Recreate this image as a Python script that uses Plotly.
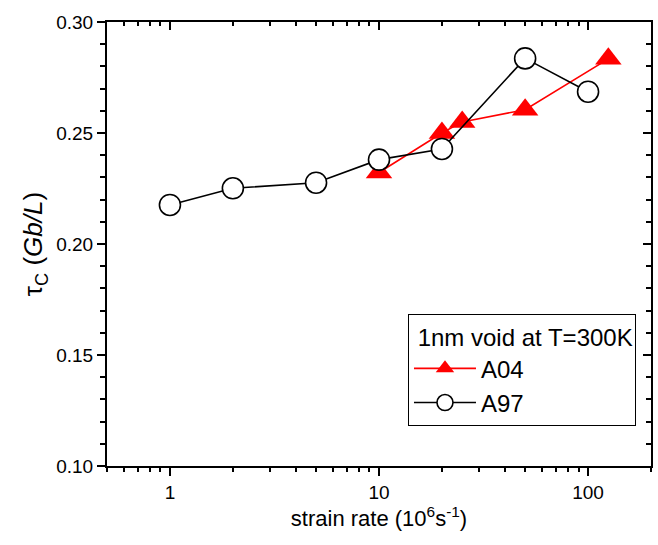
import plotly.graph_objects as go
import numpy as np

# Data
a97_rate = [1, 2, 5, 10, 20, 50, 100]
a97_tau = [0.2176, 0.2251, 0.2276, 0.2380, 0.2428, 0.2836, 0.2686]

a04_rate = [10, 20, 25, 50, 125]
a04_tau = [0.2322, 0.2500, 0.2550, 0.2605, 0.2834]

legend_title = "\u00a01nm void at T=300K"
x_tickvals = [1, 10, 100]
x_ticktext = ["1", "10", "100"]
y_tickvals = [0.10, 0.15, 0.20, 0.25, 0.30]
y_ticktext = ["0.10", "0.15", "0.20", "0.25", "0.30"]

FONT = "Liberation Sans, Arial, sans-serif"

fig = go.Figure()
fig.add_trace(go.Scatter(
    x=a04_rate, y=a04_tau, name="A04", mode="lines+markers",
    line=dict(color="#ff0000", width=1.6),
    marker=dict(symbol="triangle-up", size=23, color="#ff0000",
                line=dict(width=0)),
))
fig.add_trace(go.Scatter(
    x=a97_rate, y=a97_tau, name="A97", mode="lines+markers",
    line=dict(color="black", width=1.6),
    marker=dict(symbol="circle", size=21, color="white",
                line=dict(color="black", width=1.6)),
))
# invisible carrier trace so the mirrored top/right frame axes are drawn
fig.add_trace(go.Scatter(
    x=a97_rate, y=a97_tau, xaxis="x2", yaxis="y2", mode="markers",
    marker=dict(opacity=0), showlegend=False, hoverinfo="skip",
))

xr = [np.log10(0.5), np.log10(200)]
yr = [0.10, 0.30]

fig.update_layout(
    width=658, height=545,
    margin=dict(l=107, r=7, t=22, b=79),
    paper_bgcolor="white", plot_bgcolor="white",
    font=dict(family=FONT, size=19, color="black"),
    showlegend=True,
    legend=dict(
        title=dict(text=legend_title, font=dict(size=24)),
        font=dict(size=24),
        x=0.9724, xanchor="right", y=0.09, yanchor="bottom",
        bordercolor="black", borderwidth=1, bgcolor="white",
        itemwidth=62,
        tracegroupgap=0,
    ),
    xaxis=dict(
        type="log", range=xr,
        tickvals=x_tickvals, ticktext=x_ticktext,
        ticks="outside", ticklen=8, tickwidth=1.5, tickcolor="black",
        minor=dict(dtick="D1", ticks="outside", ticklen=4, tickwidth=1.5, tickcolor="black"),
        showline=True, linecolor="black", linewidth=2,
        showgrid=False, zeroline=False,
        title=dict(text="strain rate (10<sup>6</sup>s<sup>-1</sup>)", font=dict(size=22), standoff=5),
        tickfont=dict(size=19),
    ),
    yaxis=dict(
        range=yr,
        tickvals=y_tickvals, ticktext=y_ticktext,
        ticks="outside", ticklen=8, tickwidth=1.5, tickcolor="black",
        minor=dict(dtick=0.01, ticks="outside", ticklen=5, tickwidth=1.5, tickcolor="black"),
        showline=True, linecolor="black", linewidth=2,
        showgrid=False, zeroline=False,
        title=dict(text="τ<sub>C</sub> (<i>Gb/L</i>)", font=dict(size=26), standoff=6),
        tickfont=dict(size=19),
    ),
    xaxis2=dict(
        type="log", range=xr, overlaying="x", side="top", anchor="y2",
        tickvals=x_tickvals, showticklabels=False,
        ticks="inside", ticklen=8, tickwidth=1.5, tickcolor="black",
        minor=dict(dtick="D1", ticks="inside", ticklen=4, tickwidth=1.5, tickcolor="black"),
        showline=True, linecolor="black", linewidth=2,
        showgrid=False, zeroline=False,
    ),
    yaxis2=dict(
        range=yr, overlaying="y", side="right", anchor="x2",
        tickvals=y_tickvals, showticklabels=False,
        ticks="inside", ticklen=8, tickwidth=1.5, tickcolor="black",
        minor=dict(dtick=0.01, ticks="inside", ticklen=5, tickwidth=1.5, tickcolor="black"),
        showline=True, linecolor="black", linewidth=2,
        showgrid=False, zeroline=False,
    ),
)

fig.write_html("out.html")
